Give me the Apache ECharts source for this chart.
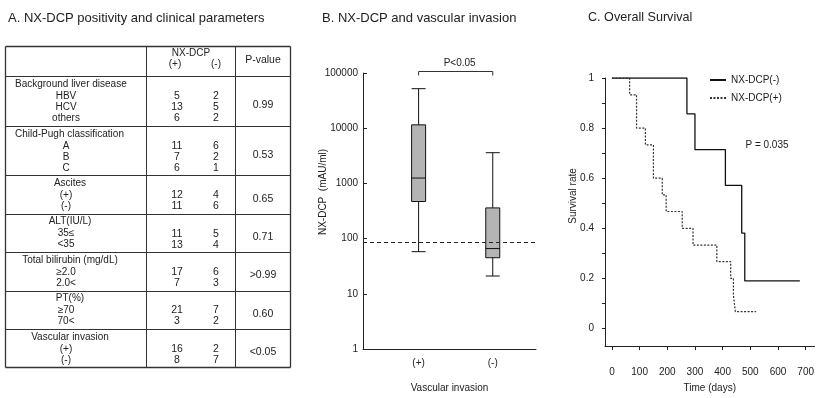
<!DOCTYPE html>
<html>
<head>
<meta charset="utf-8">
<script src="https://cdn.jsdelivr.net/npm/echarts@6/dist/echarts.min.js"></script>
<style>
  html, body { margin: 0; padding: 0; background: #fff; }
  #chart { width: 817px; height: 398px; }
</style>
</head>
<body>
<div id="chart"></div>
<script>
// ---- Panel A: table data ----
const tableGroups = ['Background liver disease', 'Child-Pugh classification', 'Ascites', 'ALT(IU/L)',
  'Total bilirubin (mg/dL)', 'PT(%)', 'Vascular invasion'];
const tableItems = [['HBV', 'HCV', 'others'], ['A', 'B', 'C'], ['(+)', '(-)'], ['35≤', '<35'],
  ['≥2.0', '2.0<'], ['≥70', '70<'], ['(+)', '(-)']];
const dcpPositive = [[5, 13, 6], [11, 7, 6], [12, 11], [11, 13], [17, 7], [21, 3], [16, 8]];
const dcpNegative = [[2, 5, 2], [6, 2, 1], [4, 6], [5, 4], [6, 3], [7, 2], [2, 7]];
const pValues = ['0.99', '0.53', '0.65', '0.71', '>0.99', '0.60', '<0.05'];

// ---- Panel B: box plot (min, Q1, median, Q3, max) ----
const invasionGroups = ['(+)', '(-)'];
const boxStats = [
  [58, 470, 1250, 11500, 52000],
  [21, 45, 66, 360, 3600]
];
const cutoffValue = 85;

// ---- Panel C: Kaplan-Meier steps ----
const negDays = [0, 271, 300, 410, 469, 480, 679];
const negSurvival = [1, 0.857, 0.714, 0.571, 0.381, 0.19, 0.19];
const posDays = [0, 64, 89, 121, 150, 182, 196, 254, 293, 379, 429, 439, 446, 521];
const posSurvival = [1, 0.933, 0.8, 0.733, 0.6, 0.533, 0.467, 0.4, 0.333, 0.267, 0.2, 0.133, 0.067, 0.067];
const timeTicks = [0, 100, 200, 300, 400, 500, 600, 700];
const rateLabels = [0, 0.2, 0.4, 0.6, 0.8, 1];
const rateTicks = [0, 0.1, 0.2, 0.3, 0.4, 0.5, 0.6, 0.7, 0.8, 0.9, 1];

// layout of box plot slots (boxes are not centred on the axis)
const slotCount = 14;
const groupSlots = [4, 10];

const FONT = "'Liberation Sans', Arial, sans-serif";
const INK = '#222';

const slotNames = [];
for (let i = 0; i < slotCount; i++) slotNames.push('');
groupSlots.forEach((s, i) => { slotNames[s] = invasionGroups[i]; });

const chart = echarts.init(document.getElementById('chart'));

const titleStyle = { fontSize: 13, fontWeight: 'normal', color: INK, fontFamily: FONT };

const option = {
  animation: false,
  backgroundColor: '#fff',
  title: [
    { text: 'A. NX-DCP positivity and clinical parameters', left: 8, top: 12, padding: 0, textStyle: titleStyle },
    { text: 'B. NX-DCP and vascular invasion', left: 322, top: 12, padding: 0, textStyle: titleStyle },
    { text: 'C. Overall Survival', left: 588, top: 11, padding: 0,
      textStyle: Object.assign({}, titleStyle, { fontSize: 12.6 }) }
  ],
  legend: {
    orient: 'vertical', left: 709, top: 75, padding: 0,
    itemWidth: 16, itemHeight: 8, itemGap: 8,
    itemStyle: { opacity: 0, borderWidth: 0 },
    textStyle: { fontSize: 10, color: INK, fontFamily: FONT },
    data: ['NX-DCP(-)', 'NX-DCP(+)']
  },
  grid: [
    { left: 363, right: 281, top: 73, bottom: 49 },
    { left: 605, right: 0, top: 78, bottom: 50 }
  ],
  xAxis: [
    {
      gridIndex: 0, type: 'category', data: slotNames, boundaryGap: true,
      name: 'Vascular invasion', nameLocation: 'middle', nameGap: 34,
      nameTextStyle: { fontSize: 10, color: INK, fontFamily: FONT },
      axisLine: { lineStyle: { color: INK, width: 1 } },
      axisTick: { show: false },
      axisLabel: { interval: 0, margin: 9, fontSize: 10, color: INK, fontFamily: FONT }
    },
    {
      gridIndex: 1, type: 'value', min: -25, max: 732,
      name: 'Time (days)', nameLocation: 'middle', nameGap: 37,
      nameTextStyle: { fontSize: 10, color: INK, fontFamily: FONT },
      axisLine: { onZero: false, lineStyle: { color: INK, width: 1 } },
      axisTick: { customValues: timeTicks, length: 4, lineStyle: { color: INK } },
      axisLabel: { customValues: timeTicks, margin: 21, fontSize: 10, color: INK, fontFamily: FONT },
      splitLine: { show: false }
    }
  ],
  yAxis: [
    {
      gridIndex: 0, type: 'log', logBase: 10, min: 1, max: 100000,
      axisLine: { show: true, lineStyle: { color: INK, width: 1 } },
      axisTick: { show: true, inside: true, length: 4, lineStyle: { color: INK } },
      axisLabel: { margin: 5, fontSize: 10, color: INK, fontFamily: FONT,
        formatter: v => String(Math.round(v)) },
      splitLine: { show: false }
    },
    {
      gridIndex: 1, type: 'value', min: -0.07, max: 1,
      axisLine: { show: true, onZero: false, lineStyle: { color: INK, width: 1 } },
      axisTick: { show: true, customValues: rateTicks, length: 3, lineStyle: { color: INK } },
      axisLabel: { customValues: rateLabels, margin: 11, fontSize: 10, color: INK, fontFamily: FONT,
        formatter: v => String(Math.round(v * 10) / 10) },
      splitLine: { show: false }
    }
  ],
  series: [
    {
      type: 'boxplot', xAxisIndex: 0, yAxisIndex: 0,
      boxWidth: [14, 14],
      encode: { x: 0, y: [1, 2, 3, 4, 5] },
      data: boxStats.map((s, i) => [groupSlots[i]].concat(s)),
      itemStyle: { color: '#b4b4b4', borderColor: '#111', borderWidth: 1 },
      markLine: {
        silent: true, symbol: 'none', label: { show: false },
        lineStyle: { color: '#222', type: [4, 3], width: 1.2 },
        data: [{ yAxis: cutoffValue }]
      }
    },
    {
      name: 'NX-DCP(-)', type: 'line', xAxisIndex: 1, yAxisIndex: 1,
      step: 'end', symbol: 'none', z: 3,
      lineStyle: { color: '#111', width: 1.3, type: 'solid' },
      itemStyle: { color: '#111' },
      data: negDays.map((d, i) => [d, negSurvival[i]])
    },
    {
      name: 'NX-DCP(+)', type: 'line', xAxisIndex: 1, yAxisIndex: 1,
      step: 'end', symbol: 'none', z: 2,
      lineStyle: { color: '#333', width: 1.2, type: [2, 1.5] },
      itemStyle: { color: '#333' },
      data: posDays.map((d, i) => [d, posSurvival[i]])
    }
  ]
};

chart.setOption(option);

// ---- graphic: table (panel A) and annotations ----
const g = [];
function addText(x, y, s, align, size, rot) {
  g.push({
    type: 'text', x: x, y: y, rotation: rot || 0,
    style: { text: s, fill: INK, fontSize: size || 10, fontFamily: FONT,
      align: align || 'center', verticalAlign: 'middle' }
  });
}
function addLine(x1, y1, x2, y2, w) {
  g.push({ type: 'line', shape: { x1: x1, y1: y1, x2: x2, y2: y2 },
    style: { stroke: '#333', lineWidth: w || 1 } });
}

const tL = 5.5, tR = 290.5, c1 = 146.5, c2 = 235.5, tTop = 46.5, hBot = 76.5;
const posX = 177, negX = 216, pX = 263, lineH = 11;

addText((c1 + c2) / 2, 53, 'NX-DCP', 'center', 10);
addText(posX - 2, 64, '(+)', 'center', 10);
addText(negX, 64, '(-)', 'center', 10);
addText((c2 + tR) / 2, 60, 'P-value', 'center', 10.5);
addLine(tL, hBot, tR, hBot);

let rowTop = hBot;
tableGroups.forEach((label, gi) => {
  const items = tableItems[gi];
  const h = 16.4 + lineH * items.length;
  if (gi < 2) addText(15, rowTop + 8, label, 'left');
  else addText(70, rowTop + 8, label, 'center');
  items.forEach((it, k) => {
    const y = rowTop + 20 + lineH * k;
    addText(66, y, it, 'center');
    addText(posX, y, String(dcpPositive[gi][k]), 'center', 10.5);
    addText(negX, y, String(dcpNegative[gi][k]), 'center', 10.5);
  });
  addText(pX, rowTop + 18 + lineH * (items.length - 1) / 2, pValues[gi], 'center', 10.5);
  rowTop += h;
  if (gi < tableGroups.length - 1) addLine(tL, Math.round(rowTop) + 0.5, tR, Math.round(rowTop) + 0.5);
});
const tBot = Math.round(rowTop) + 0.5;
addLine(tL, tTop, tR, tTop, 1.3);
addLine(tL, tBot, tR, tBot, 1.3);
addLine(tL, tTop, tL, tBot, 1.3);
addLine(tR, tTop, tR, tBot, 1.3);
addLine(c1, tTop, c1, tBot);
addLine(c2, tTop, c2, tBot);

// box plot annotations
const xPos = chart.convertToPixel({ xAxisIndex: 0 }, groupSlots[0]);
const xNeg = chart.convertToPixel({ xAxisIndex: 0 }, groupSlots[1]);
const yBr = 71.5;
g.push({ type: 'polyline', shape: { points: [[xPos, yBr + 4], [xPos, yBr], [xNeg, yBr], [xNeg, yBr + 4]] },
  style: { stroke: '#333', lineWidth: 1, fill: null } });
addText((xPos + xNeg) / 2 + 4, 63, 'P<0.05', 'center', 10);
addText(323, 192, 'NX-DCP  (mAU/ml)', 'center', 10, Math.PI / 2);

// survival annotations
addText(573, 196, 'Survival rate', 'center', 10, Math.PI / 2);
addText(767, 145, 'P = 0.035', 'center', 10);

chart.setOption({ graphic: { elements: g } });
</script>
</body>
</html>
